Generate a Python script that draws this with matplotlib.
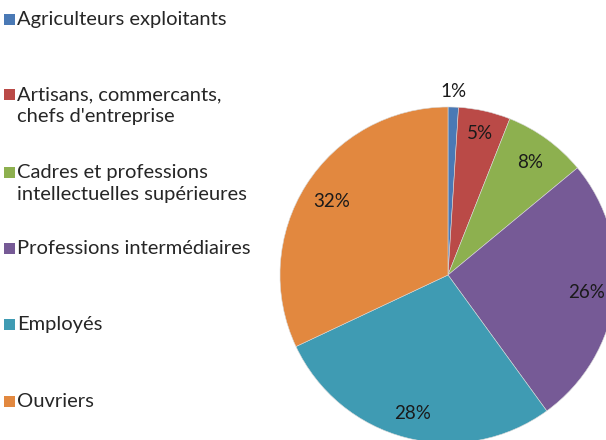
import matplotlib
matplotlib.use("Agg")
import matplotlib.pyplot as plt
from matplotlib.patches import Rectangle
import numpy as np

categories = [
    "Agriculteurs exploitants",
    "Artisans, commercants,\nchefs d'entreprise",
    "Cadres et professions\nintellectuelles supérieures",
    "Professions intermédiaires",
    "Employés",
    "Ouvriers",
]
values = [1, 5, 8, 26, 28, 32]
pct_labels = ["1%", "5%", "8%", "26%", "28%", "32%"]
colors = ["#4A79B5", "#BA4A47", "#8DB04F", "#765A96", "#3F9BB3", "#E2883F"]

W, H = 606, 440
fig = plt.figure(figsize=(W / 100, H / 100), dpi=100)
fig.patch.set_facecolor("white")
plt.rcParams["font.family"] = ["Lato", "DejaVu Sans"]

# pie axes: center (448, 275) px from top, radius 168 px
cx, cy, r = 448, 275, 168
ax = fig.add_axes([(cx - r) / W, (H - cy - r) / H, 2 * r / W, 2 * r / H])
wedges, _ = ax.pie(values, colors=colors, startangle=90, counterclock=False,
                   radius=1, wedgeprops=dict(edgecolor="#d8d8d8", linewidth=0.4))
ax.set_xlim(-1, 1)
ax.set_ylim(-1, 1)
ax.axis("off")
for w in wedges:
    w.set_clip_on(False)

dists = [1.09, 0.86, 0.83, 0.83, 0.85, 0.82]
for w, lab, d in zip(wedges, pct_labels, dists):
    ang = np.deg2rad((w.theta1 + w.theta2) / 2)
    ax.text(d * np.cos(ang), d * np.sin(ang), lab, ha="center", va="center",
            fontsize=13.5, color="#1a1a1a", clip_on=False)

# legend (manual, Excel-style: marker aligned with first line)
first_baselines = [25, 100, 178, 254, 330, 407]
line_gap = 22
for lab, col, yb in zip(categories, colors, first_baselines):
    fig.patches.append(Rectangle((4 / W, (H - yb) / H), 11 / W, 11 / H,
                                 transform=fig.transFigure, facecolor=col,
                                 edgecolor="none"))
    for k, line in enumerate(lab.split("\n")):
        fig.text(17 / W, (H - yb - k * line_gap) / H, line, ha="left",
                 va="baseline", fontsize=14.5, color="#262626")

fig.savefig("out.png", dpi=100, facecolor="white")
